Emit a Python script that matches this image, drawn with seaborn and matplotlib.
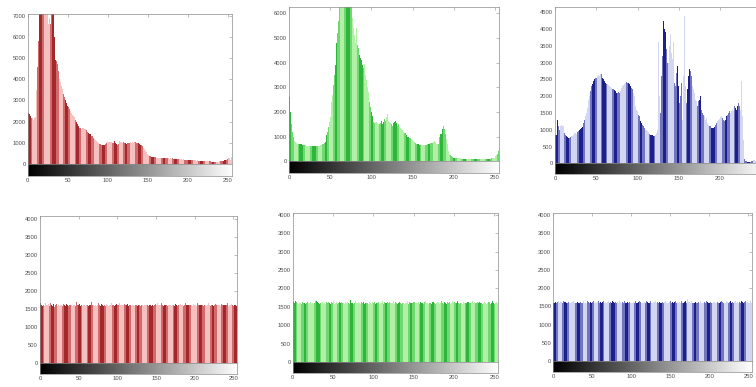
"""Histograms of the RGB channels before (top) and after (bottom) equalisation,
drawn in the imhist style: bars over a grey-level gradient strip."""

import numpy as np
import seaborn as sns
import matplotlib.pyplot as plt
from matplotlib.colors import to_rgb

W, H = 756, 387

levels = np.arange(256)
tick_values = [0, 50, 100, 150, 200, 250]

# --- original image histograms ---
red_orig = [
    3000, 2400, 2350, 2250, 2200, 2150, 2150, 2100, 2150, 2100, 2200, 3500, 4600, 5800, 7200, 7600,
    8200, 8800, 9500, 8900, 9800, 9200, 8400, 8000, 6700, 7400, 6600, 6900, 6600, 7600, 7300, 8100,
    7400, 6000, 4950, 4900, 4850, 4700, 4400, 4150, 4000, 3850, 3700, 3550, 3400, 3300, 3150, 3000,
    2900, 2850, 2750, 2700, 2600, 2500, 2450, 2400, 2300, 2250, 2200, 2200, 2100, 2000, 1900, 1800,
    1750, 1700, 1700, 1650, 1700, 1800, 1700, 1650, 1650, 1600, 1450, 1500, 1450, 1400, 1400, 1350,
    1300, 1300, 1250, 1200, 1200, 1150, 1100, 1050, 1000, 980, 950, 930, 900, 920, 900, 900,
    920, 950, 980, 1000, 1020, 1050, 1050, 1050, 1030, 1050, 1000, 1000, 1100, 950, 1000, 950,
    900, 950, 1050, 1100, 1050, 1050, 1000, 1000, 1050, 1000, 980, 950, 950, 980, 1000, 1000,
    1020, 1050, 1000, 1050, 1000, 1050, 1000, 1050, 1000, 1000, 980, 950, 950, 900, 900, 850,
    800, 750, 700, 600, 550, 500, 450, 420, 400, 380, 360, 350, 350, 340, 320, 320,
    310, 300, 300, 300, 290, 300, 290, 280, 280, 300, 280, 270, 280, 270, 260, 280,
    260, 250, 260, 250, 240, 260, 250, 240, 230, 240, 230, 230, 220, 240, 230, 220,
    220, 210, 220, 200, 210, 200, 200, 210, 200, 190, 200, 190, 200, 190, 180, 190,
    180, 170, 170, 160, 170, 160, 160, 150, 160, 150, 150, 140, 150, 140, 140, 130,
    130, 120, 130, 120, 120, 110, 120, 110, 110, 100, 110, 100, 110, 100, 110, 120,
    120, 130, 140, 150, 160, 170, 180, 190, 200, 220, 250, 300, 260, 200, 350, 280,
]

green_orig = [
    3000, 2600, 2000, 1500, 1200, 1000, 900, 820, 780, 750, 720, 700, 700, 690, 700, 690,
    680, 670, 660, 650, 650, 640, 630, 620, 620, 620, 610, 610, 600, 600, 600, 600,
    610, 610, 620, 620, 630, 640, 650, 660, 680, 700, 720, 760, 800, 900, 1050, 1200,
    1400, 1600, 1800, 2100, 2400, 2700, 3100, 3500, 3900, 4300, 4800, 5200, 5700, 6300, 6800, 7200,
    7500, 7800, 8100, 8400, 8200, 8600, 8900, 8300, 7900, 7600, 7100, 6800, 6300, 5800, 5400, 5100,
    5000, 4800, 5400, 4700, 4600, 4400, 4300, 4200, 4100, 3900, 3800, 3700, 3950, 3500, 3300, 3000,
    2800, 2600, 2400, 2200, 2000, 1850, 1700, 1600, 1550, 1600, 1600, 1550, 1850, 1500, 1500, 1550,
    1650, 1500, 1550, 1600, 1700, 1650, 1800, 1700, 1900, 1650, 1600, 1550, 1500, 1500, 1450, 1550,
    1600, 1650, 1550, 1500, 1450, 1500, 1400, 1350, 1300, 1300, 1250, 1200, 1150, 1150, 1100, 1050,
    1000, 1000, 950, 950, 900, 900, 850, 820, 800, 780, 750, 720, 700, 700, 680, 670,
    660, 650, 650, 650, 660, 660, 680, 680, 690, 700, 700, 720, 740, 750, 760, 780,
    800, 820, 800, 700, 700, 720, 850, 1000, 1100, 1100, 1300, 1600, 1450, 1300, 1100, 900,
    700, 500, 400, 300, 250, 200, 180, 160, 150, 150, 140, 140, 130, 130, 120, 120,
    120, 110, 110, 110, 100, 100, 100, 100, 100, 90, 90, 90, 90, 90, 80, 80,
    80, 80, 80, 80, 80, 80, 80, 80, 80, 80, 80, 80, 80, 80, 90, 90,
    90, 100, 100, 100, 110, 110, 120, 130, 140, 150, 180, 200, 250, 300, 400, 800,
]

blue_orig = [
    2000, 850, 850, 1300, 1100, 1000, 1100, 1100, 1150, 1100, 1100, 1000, 900, 850, 800, 780,
    750, 760, 750, 780, 800, 820, 850, 880, 900, 900, 880, 920, 950, 980, 1000, 1020,
    1050, 1080, 1100, 1200, 1300, 1400, 1500, 1650, 1800, 1900, 2000, 2150, 2300, 2350, 2400, 2450,
    2500, 2550, 2550, 2600, 2600, 2620, 2600, 2650, 2650, 2600, 2550, 2500, 2450, 2400, 2350, 2350,
    2350, 2330, 2300, 2280, 2250, 2220, 2200, 2200, 2180, 2150, 2150, 2100, 2100, 2120, 2100, 2150,
    2200, 2250, 2300, 2330, 2350, 2380, 2400, 2420, 2400, 2380, 2350, 2330, 2300, 2250, 2200, 2100,
    2000, 1850, 1700, 1600, 1550, 1450, 1400, 1300, 1250, 1200, 1150, 1100, 1050, 1050, 1000, 980,
    950, 920, 900, 880, 850, 850, 850, 820, 800, 820, 850, 900, 1000, 3600, 1500, 2000,
    1500, 2600, 3200, 4250, 4200, 4000, 3900, 3400, 3000, 2500, 3000, 3500, 3850, 3300, 3100, 3000,
    3600, 2400, 2300, 2700, 2900, 2200, 2300, 1800, 2000, 2400, 2100, 1300, 2600, 4400, 2300, 1800,
    1700, 2200, 2600, 2800, 2750, 2600, 2500, 2300, 2200, 2100, 1900, 1850, 1800, 1700, 1850, 1900,
    2000, 1700, 1600, 1500, 1450, 1400, 1300, 1450, 1350, 1200, 1150, 1100, 1100, 1050, 1050, 1050,
    1050, 1080, 1100, 1150, 1200, 1250, 1300, 1320, 1350, 1380, 1400, 1350, 1300, 1250, 1200, 1300,
    1400, 1450, 1500, 1550, 1550, 1500, 1550, 1600, 1550, 1600, 1700, 1650, 1600, 1700, 1800, 2200,
    1700, 1600, 2450, 1400, 700, 250, 120, 80, 60, 50, 50, 50, 50, 50, 60, 70,
    80, 100, 90, 80, 70, 60, 60, 50, 50, 50, 50, 50, 50, 50, 50, 50,
]

# --- equalised image histograms ---
red_eq = [
    1620, 1650, 1600, 1580, 1640, 1610, 1590, 1660, 1600, 1570, 1620, 1640, 1580, 1610, 1650, 1600,
    1590, 1630, 1610, 1560, 1600, 1640, 1620, 1590, 1610, 1580, 1650, 1600, 1620, 1590, 1640, 1610,
    1600, 1570, 1630, 1680, 1600, 1590, 1620, 1600, 1650, 1610, 1580, 1600, 1640, 1620, 1590, 1700,
    1610, 1580, 1600, 1630, 1590, 1620, 1600, 1570, 1610, 1650, 1600, 1590, 1620, 1600, 1640, 1580,
    1600, 1610, 1590, 1700, 1620, 1600, 1580, 1640, 1610, 1590, 1620, 1600, 1660, 1600, 1580, 1610,
    1630, 1600, 1590, 1620, 1600, 1580, 1640, 1610, 1600, 1570, 1620, 1600, 1650, 1590, 1610, 1600,
    1580, 1620, 1600, 1640, 1610, 1590, 1600, 1650, 1620, 1600, 1580, 1610, 1600, 1630, 1590, 1610,
    1600, 1640, 1580, 1600, 1620, 1610, 1590, 1700, 1600, 1620, 1580, 1610, 1640, 1600, 1590, 1620,
    1610, 1600, 1580, 1620, 1650, 1600, 1590, 1610, 1600, 1570, 1620, 1600, 1580, 1560, 1600, 1610,
    1590, 1620, 1600, 1580, 1610, 1640, 1600, 1620, 1650, 1600, 1590, 1610, 1600, 1660, 1620, 1600,
    1580, 1610, 1600, 1640, 1620, 1590, 1600, 1610, 1650, 1600, 1580, 1620, 1600, 1610, 1590, 1640,
    1600, 1620, 1580, 1600, 1610, 1590, 1640, 1600, 1620, 1600, 1580, 1610, 1650, 1600, 1590, 1620,
    1600, 1610, 1590, 1620, 1600, 1580, 1640, 1610, 1600, 1620, 1590, 1600, 1660, 1610, 1600, 1580,
    1620, 1600, 1610, 1590, 1640, 1600, 1620, 1580, 1600, 1610, 1650, 1600, 1590, 1620, 1600, 1610,
    1580, 1600, 1620, 1640, 1600, 1590, 1610, 1600, 1620, 1580, 1600, 1640, 1610, 1600, 1590, 1620,
    1600, 1610, 1650, 1600, 1580, 1620, 1600, 1610, 1640, 1600, 1590, 1620, 1600, 1610, 1580, 1600,
]

green_eq = [
    1610, 1640, 1600, 1670, 1590, 1620, 1600, 1580, 1610, 1650, 1600, 1590, 1620, 1600, 1640, 1610,
    1590, 1600, 1620, 1580, 1610, 1600, 1640, 1590, 1620, 1600, 1580, 1610, 1650, 1600, 1660, 1620,
    1600, 1590, 1610, 1640, 1600, 1620, 1580, 1600, 1610, 1590, 1620, 1600, 1640, 1610, 1600, 1580,
    1620, 1600, 1610, 1650, 1590, 1600, 1620, 1600, 1580, 1610, 1640, 1600, 1590, 1620, 1610, 1600,
    1580, 1620, 1600, 1610, 1640, 1600, 1590, 1620, 1700, 1610, 1600, 1580, 1620, 1600, 1650, 1610,
    1600, 1590, 1620, 1600, 1580, 1640, 1610, 1600, 1620, 1590, 1600, 1650, 1610, 1600, 1580, 1620,
    1600, 1610, 1590, 1640, 1600, 1620, 1600, 1580, 1610, 1600, 1640, 1620, 1590, 1600, 1610, 1650,
    1600, 1580, 1620, 1600, 1610, 1590, 1640, 1600, 1620, 1600, 1580, 1610, 1600, 1650, 1590, 1620,
    1600, 1610, 1580, 1600, 1640, 1620, 1600, 1590, 1610, 1600, 1620, 1580, 1600, 1610, 1650, 1600,
    1590, 1620, 1600, 1610, 1580, 1600, 1640, 1620, 1600, 1590, 1610, 1600, 1620, 1580, 1600, 1640,
    1610, 1600, 1590, 1620, 1600, 1650, 1610, 1600, 1580, 1620, 1600, 1610, 1590, 1640, 1600, 1620,
    1600, 1580, 1610, 1600, 1640, 1620, 1590, 1600, 1610, 1650, 1600, 1580, 1620, 1600, 1610, 1590,
    1640, 1600, 1620, 1600, 1580, 1610, 1650, 1600, 1590, 1620, 1600, 1610, 1670, 1620, 1600, 1590,
    1610, 1600, 1640, 1580, 1620, 1600, 1610, 1590, 1600, 1640, 1620, 1600, 1580, 1610, 1600, 1650,
    1600, 1620, 1590, 1600, 1610, 1640, 1600, 1580, 1620, 1600, 1610, 1590, 1650, 1600, 1620, 1600,
    1580, 1610, 1600, 1640, 1620, 1590, 1600, 1610, 1650, 1600, 1580, 1620, 1600, 1640, 1610, 1600,
]

blue_eq = [
    1600, 1640, 1580, 1610, 1600, 1620, 1590, 1650, 1600, 1610, 1580, 1620, 1600, 1640, 1610, 1590,
    1620, 1600, 1580, 1610, 1650, 1600, 1590, 1620, 1600, 1610, 1640, 1600, 1580, 1620, 1600, 1610,
    1590, 1640, 1600, 1620, 1580, 1600, 1610, 1650, 1600, 1590, 1620, 1600, 1640, 1610, 1580, 1600,
    1620, 1600, 1610, 1590, 1640, 1600, 1620, 1580, 1600, 1610, 1650, 1600, 1590, 1620, 1600, 1610,
    1640, 1600, 1580, 1620, 1600, 1610, 1590, 1650, 1600, 1620, 1580, 1600, 1640, 1610, 1600, 1590,
    1620, 1600, 1610, 1580, 1600, 1640, 1620, 1600, 1590, 1610, 1600, 1650, 1620, 1600, 1580, 1610,
    1600, 1640, 1620, 1590, 1600, 1610, 1580, 1620, 1600, 1650, 1610, 1600, 1590, 1620, 1600, 1640,
    1610, 1600, 1580, 1620, 1600, 1610, 1590, 1640, 1600, 1620, 1600, 1580, 1610, 1650, 1600, 1590,
    1620, 1600, 1610, 1640, 1580, 1600, 1620, 1600, 1610, 1590, 1640, 1600, 1620, 1580, 1600, 1610,
    1650, 1600, 1590, 1620, 1600, 1610, 1640, 1600, 1580, 1620, 1600, 1610, 1590, 1650, 1600, 1620,
    1600, 1580, 1610, 1600, 1640, 1620, 1590, 1600, 1610, 1650, 1600, 1580, 1700, 1620, 1600, 1610,
    1590, 1640, 1600, 1620, 1580, 1600, 1610, 1650, 1600, 1590, 1620, 1600, 1610, 1640, 1600, 1580,
    1620, 1600, 1610, 1590, 1650, 1600, 1620, 1580, 1600, 1640, 1610, 1600, 1590, 1620, 1600, 1610,
    1580, 1600, 1640, 1620, 1600, 1590, 1610, 1600, 1650, 1620, 1600, 1580, 1610, 1600, 1640, 1620,
    1590, 1600, 1610, 1650, 1600, 1580, 1620, 1600, 1610, 1590, 1640, 1600, 1620, 1600, 1580, 1610,
    1600, 1650, 1590, 1620, 1600, 1610, 1640, 1600, 1580, 1620, 1600, 1610, 1590, 1640, 1600, 1620,
]

# dark, mid, light shades of each channel
RED = ("#a3282c", "#d06a6c", "#f5c0c0")
GREEN = ("#2fb53c", "#6fd870", "#b2f0a8")
BLUE = ("#1c1f8c", "#7175bd", "#d3d6f0")

# (left, right, top, zero-line, strip bottom) in pixels, y max, y step, stripe period
panels = [
    (red_orig, RED, (27.7, 232.0, 14.0, 164.0, 176.0), 7080, 1000, 15.3),
    (green_orig, GREEN, (289.0, 499.1, 7.3, 161.3, 173.3), 14.1),
    (blue_orig, BLUE, (555.0, 765.4, 6.7, 163.3, 174.0), 4666, 500, 14.6),
    (red_eq, RED, (40.0, 237.2, 215.7, 362.7, 374.0), 4094, 500, 15.8),
    (green_eq, GREEN, (292.7, 498.3, 213.3, 362.0, 373.3), 4046, 500, 14.4),
    (blue_eq, BLUE, (553.3, 752.2, 213.3, 361.0, 372.0), 4047, 500, 15.1),
]
# green top panel: y max and step
panels[1] = (green_orig, GREEN, (289.0, 499.1, 7.3, 161.3, 173.3), 6243, 1000, 14.1)

TEXT = "#4d4d4d"
FRAME = "#8c8c8c"


def box(l, r, t, b):
    return [l / W, 1 - b / H, (r - l) / W, (b - t) / H]


def style_axis(ax):
    for s in ax.spines.values():
        s.set_color(FRAME)
        s.set_linewidth(0.5)
    ax.tick_params(direction="in", length=2, width=0.4, colors=FRAME,
                   labelcolor=TEXT, labelsize=4.2, pad=1.5,
                   top=True, right=True)
    ax.set_xlabel("")
    ax.set_ylabel("")


def stripe_colors(n, shades, period):
    """Moire-like stripes: dark / mid / light / mid bands, slightly uneven."""
    cols = [np.array(to_rgb(c)) for c in shades]
    out = []
    for i in range(n):
        phase = (i / period + 0.08 * np.sin(2 * np.pi * i / (period * 3.7))) % 1
        if phase < 0.24:
            out.append(cols[0])
        elif phase < 0.42:
            out.append(cols[1])
        elif phase < 0.82:
            out.append(cols[2])
        else:
            out.append(cols[1])
    return out


def draw_panel(fig, counts, shades, geom, ymax, ystep, period):
    l, r, t, z, b = geom
    ax = fig.add_axes(box(l, r, t, z))
    cax = fig.add_axes(box(l, r, z, b))

    sns.histplot(x=levels, weights=counts, discrete=True, ax=ax,
                 color=shades[0], alpha=1, linewidth=0)

    for patch, col in zip(ax.patches, stripe_colors(len(ax.patches), shades, period)):
        patch.set_facecolor(col)

    ax.set_xlim(0, 255)
    ax.set_ylim(0, ymax)
    ax.set_xticks(tick_values)
    ax.set_xticklabels([])
    ax.set_yticks(np.arange(0, ymax + 1, ystep))
    style_axis(ax)
    ax.tick_params(bottom=False)

    gradient = np.linspace(0, 1, 256)[None, :]
    cax.imshow(gradient, cmap="gray", aspect="auto", extent=[0, 255, 0, 1])
    cax.set_xlim(0, 255)
    cax.set_ylim(0, 1)
    cax.set_xticks(tick_values)
    cax.set_yticks([])
    style_axis(cax)
    cax.tick_params(top=False, right=False, left=False)


def main():
    sns.set_style("white")
    plt.rcParams["font.family"] = ["Liberation Sans", "DejaVu Sans"]

    fig = plt.figure(figsize=(W / 100, H / 100), dpi=100)
    fig.patch.set_facecolor("white")
    for counts, shades, geom, ymax, ystep, period in panels:
        draw_panel(fig, counts, shades, geom, ymax, ystep, period)

    fig.savefig("out.png", dpi=100)


if __name__ == "__main__":
    main()
